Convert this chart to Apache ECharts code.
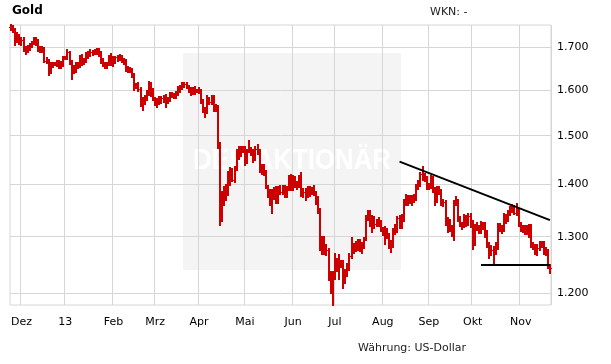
<!DOCTYPE html>
<html>
<head>
<meta charset="utf-8">
<script src="https://cdn.jsdelivr.net/npm/echarts@6/dist/echarts.min.js"></script>
<style>html,body{margin:0;padding:0;background:#fff}#c{width:611px;height:364px}</style>
</head>
<body>
<div id="c"></div>
<script>
// rows: [date, open, close, low, high]  (USD per ounce)
const nov12 = [
 ['2012-11-26',1751,1749,1742,1754],['2012-11-27',1749,1742,1737,1753],['2012-11-28',1742,1717,1705,1745],
 ['2012-11-29',1717,1727,1714,1734],['2012-11-30',1727,1712,1709,1730]
];
const dec12 = [
 ['2012-12-03',1712,1719,1705,1724],['2012-12-04',1719,1696,1692,1722],['2012-12-05',1696,1695,1684,1700],
 ['2012-12-06',1695,1700,1690,1703],['2012-12-07',1700,1704,1694,1708],['2012-12-10',1704,1711,1701,1714],
 ['2012-12-11',1711,1716,1708,1723],['2012-12-12',1716,1716,1706,1723],['2012-12-13',1716,1695,1692,1718],
 ['2012-12-14',1695,1697,1690,1700],['2012-12-17',1697,1696,1689,1701],['2012-12-18',1696,1668,1665,1699],
 ['2012-12-19',1668,1668,1662,1675],['2012-12-20',1668,1647,1636,1670],['2012-12-21',1647,1657,1640,1664],
 ['2012-12-24',1657,1660,1653,1664],['2012-12-25',1660,1660,1658,1662],['2012-12-26',1660,1662,1655,1667],
 ['2012-12-27',1662,1660,1652,1668],['2012-12-28',1660,1656,1651,1665],['2012-12-31',1656,1675,1655,1677]
];
const jan13 = [
 ['2013-01-01',1675,1676,1672,1678],['2013-01-02',1676,1688,1673,1694],['2013-01-03',1688,1665,1661,1690],
 ['2013-01-04',1665,1648,1626,1667],['2013-01-07',1648,1645,1640,1656],['2013-01-08',1645,1660,1642,1664],
 ['2013-01-09',1660,1656,1652,1664],['2013-01-10',1656,1677,1653,1679],['2013-01-11',1677,1662,1659,1681],
 ['2013-01-14',1662,1670,1660,1673],['2013-01-15',1670,1683,1666,1686],['2013-01-16',1683,1683,1675,1688],
 ['2013-01-17',1683,1688,1679,1693],['2013-01-18',1688,1687,1682,1692],['2013-01-21',1687,1692,1684,1695],
 ['2013-01-22',1692,1692,1685,1696],['2013-01-23',1692,1685,1679,1697],['2013-01-24',1685,1669,1663,1690],
 ['2013-01-25',1669,1658,1655,1672],['2013-01-28',1658,1654,1651,1662],['2013-01-29',1654,1661,1651,1664],
 ['2013-01-30',1661,1679,1658,1680],['2013-01-31',1679,1663,1659,1684]
];
const feb13 = [
 ['2013-02-01',1663,1667,1655,1678],['2013-02-04',1667,1676,1664,1678],['2013-02-05',1676,1673,1668,1680],
 ['2013-02-06',1673,1677,1670,1682],['2013-02-07',1677,1670,1665,1680],['2013-02-08',1670,1667,1660,1672],
 ['2013-02-11',1667,1649,1645,1669],['2013-02-12',1649,1650,1642,1654],['2013-02-13',1650,1645,1641,1652],
 ['2013-02-14',1645,1636,1630,1648],['2013-02-15',1636,1609,1601,1638],['2013-02-18',1609,1610,1604,1614],
 ['2013-02-19',1610,1603,1598,1616],['2013-02-20',1603,1578,1565,1606],['2013-02-21',1578,1577,1555,1583],
 ['2013-02-22',1577,1582,1570,1586],['2013-02-25',1582,1593,1578,1599],['2013-02-26',1593,1614,1590,1619],
 ['2013-02-27',1614,1596,1588,1616],['2013-02-28',1596,1579,1577,1602]
];
const mar13 = [
 ['2013-03-01',1579,1576,1567,1583],['2013-03-04',1576,1573,1562,1580],['2013-03-05',1573,1575,1570,1584],
 ['2013-03-06',1575,1583,1572,1585],['2013-03-07',1583,1576,1573,1587],['2013-03-08',1576,1576,1562,1590],
 ['2013-03-11',1576,1578,1571,1582],['2013-03-12',1578,1590,1576,1593],['2013-03-13',1590,1588,1584,1593],
 ['2013-03-14',1588,1588,1582,1592],['2013-03-15',1588,1592,1583,1596],['2013-03-18',1592,1604,1590,1608],
 ['2013-03-19',1604,1606,1597,1610],['2013-03-20',1606,1612,1603,1616],['2013-03-21',1612,1614,1608,1617],
 ['2013-03-22',1614,1608,1604,1616],['2013-03-25',1608,1604,1596,1609],['2013-03-26',1604,1595,1590,1606],
 ['2013-03-27',1595,1603,1592,1606],['2013-03-28',1603,1598,1592,1607],['2013-03-29',1598,1598,1596,1600]
];
const apr13 = [
 ['2013-04-01',1598,1600,1593,1604],['2013-04-02',1600,1575,1572,1601],['2013-04-03',1575,1554,1552,1578],
 ['2013-04-04',1554,1552,1540,1561],['2013-04-05',1552,1581,1550,1588],['2013-04-08',1581,1573,1569,1583],
 ['2013-04-09',1573,1585,1570,1587],['2013-04-10',1585,1557,1553,1587],['2013-04-11',1557,1564,1553,1567],
 ['2013-04-12',1564,1476,1474,1564],['2013-04-15',1476,1348,1321,1484],['2013-04-16',1348,1368,1330,1386],
 ['2013-04-17',1368,1377,1360,1395],['2013-04-18',1377,1392,1370,1398],['2013-04-19',1392,1405,1380,1424],
 ['2013-04-22',1405,1424,1398,1432],['2013-04-23',1424,1409,1406,1430],['2013-04-24',1409,1432,1405,1436],
 ['2013-04-25',1432,1462,1428,1470],['2013-04-26',1462,1462,1452,1476],['2013-04-29',1462,1467,1458,1476],
 ['2013-04-30',1467,1472,1465,1477]
];
const may13 = [
 ['2013-05-01',1472,1446,1440,1476],['2013-05-02',1446,1467,1444,1471],['2013-05-03',1467,1471,1465,1488],
 ['2013-05-06',1471,1469,1460,1474],['2013-05-07',1469,1451,1445,1471],['2013-05-08',1451,1473,1449,1476],
 ['2013-05-09',1473,1469,1462,1480],['2013-05-10',1469,1436,1425,1471],['2013-05-13',1436,1434,1420,1439],
 ['2013-05-14',1434,1425,1418,1440],['2013-05-15',1425,1393,1392,1427],['2013-05-16',1393,1385,1375,1396],
 ['2013-05-17',1385,1366,1359,1389],['2013-05-20',1366,1381,1345,1388],['2013-05-21',1381,1378,1372,1392],
 ['2013-05-22',1378,1369,1363,1394],['2013-05-23',1369,1391,1363,1395],['2013-05-24',1391,1386,1381,1396],
 ['2013-05-27',1386,1393,1382,1397],['2013-05-28',1393,1378,1375,1397],['2013-05-29',1378,1391,1375,1394],
 ['2013-05-30',1391,1411,1388,1416],['2013-05-31',1411,1392,1389,1419]
];
const jun13 = [
 ['2013-06-03',1392,1411,1388,1416],['2013-06-04',1411,1398,1394,1414],['2013-06-05',1398,1399,1390,1404],
 ['2013-06-06',1399,1414,1395,1417],['2013-06-07',1414,1383,1378,1423],['2013-06-10',1383,1386,1375,1390],
 ['2013-06-11',1386,1378,1370,1391],['2013-06-12',1378,1390,1376,1394],['2013-06-13',1390,1386,1378,1394],
 ['2013-06-14',1386,1389,1382,1392],['2013-06-17',1389,1383,1380,1396],['2013-06-18',1383,1367,1362,1386],
 ['2013-06-19',1367,1350,1344,1375],['2013-06-20',1350,1277,1275,1352],['2013-06-21',1277,1297,1268,1300],
 ['2013-06-24',1297,1277,1268,1299],['2013-06-25',1277,1276,1267,1285],['2013-06-26',1276,1230,1222,1278],
 ['2013-06-27',1230,1212,1200,1237],['2013-06-28',1212,1234,1180,1236]
];
const jul13 = [
 ['2013-07-01',1234,1255,1225,1268],['2013-07-02',1255,1243,1239,1260],['2013-07-03',1243,1252,1224,1266],
 ['2013-07-04',1252,1251,1245,1256],['2013-07-05',1251,1223,1208,1256],['2013-07-08',1223,1236,1218,1240],
 ['2013-07-09',1236,1245,1230,1250],['2013-07-10',1245,1265,1240,1269],['2013-07-11',1265,1278,1262,1298],
 ['2013-07-12',1278,1277,1271,1287],['2013-07-15',1277,1283,1274,1290],['2013-07-16',1283,1291,1276,1294],
 ['2013-07-17',1291,1277,1274,1294],['2013-07-18',1277,1285,1270,1289],['2013-07-19',1285,1295,1279,1297],
 ['2013-07-22',1295,1336,1294,1338],['2013-07-23',1336,1345,1332,1348],['2013-07-24',1345,1322,1320,1349],
 ['2013-07-25',1322,1334,1309,1338],['2013-07-26',1334,1323,1316,1337],['2013-07-29',1323,1329,1320,1332],
 ['2013-07-30',1329,1325,1320,1335],['2013-07-31',1325,1313,1310,1330]
];
const aug13 = [
 ['2013-08-01',1313,1311,1303,1316],['2013-08-02',1311,1310,1286,1318],['2013-08-05',1310,1302,1298,1314],
 ['2013-08-06',1302,1283,1280,1305],['2013-08-07',1283,1286,1272,1292],['2013-08-08',1286,1311,1282,1314],
 ['2013-08-09',1311,1312,1305,1322],['2013-08-12',1312,1334,1308,1336],['2013-08-13',1334,1322,1317,1339],
 ['2013-08-14',1322,1336,1317,1341],['2013-08-15',1336,1365,1330,1369],['2013-08-16',1365,1376,1360,1380],
 ['2013-08-19',1376,1366,1360,1378],['2013-08-20',1366,1371,1364,1378],['2013-08-21',1371,1370,1360,1377],
 ['2013-08-22',1370,1376,1365,1380],['2013-08-23',1376,1395,1369,1399],['2013-08-26',1395,1403,1390,1407],
 ['2013-08-27',1403,1420,1396,1423],['2013-08-28',1420,1418,1408,1434],['2013-08-29',1418,1411,1406,1420],
 ['2013-08-30',1411,1395,1390,1414]
];
const sep13 = [
 ['2013-09-02',1395,1395,1390,1400],['2013-09-03',1395,1412,1393,1416],['2013-09-04',1412,1389,1385,1414],
 ['2013-09-05',1389,1366,1360,1392],['2013-09-06',1366,1392,1365,1394],['2013-09-09',1392,1386,1381,1395],
 ['2013-09-10',1386,1363,1360,1388],['2013-09-11',1363,1365,1357,1369],['2013-09-12',1365,1330,1322,1367],
 ['2013-09-13',1330,1327,1308,1334],['2013-09-16',1327,1318,1311,1331],['2013-09-17',1318,1310,1302,1320],
 ['2013-09-18',1310,1363,1294,1368],['2013-09-19',1363,1367,1360,1376],['2013-09-20',1367,1333,1329,1370],
 ['2013-09-23',1333,1324,1320,1337],['2013-09-24',1324,1322,1314,1326],['2013-09-25',1322,1336,1318,1340],
 ['2013-09-26',1336,1324,1320,1338],['2013-09-27',1324,1339,1322,1342],['2013-09-30',1339,1327,1318,1342]
];
const oct13 = [
 ['2013-10-01',1327,1286,1278,1330],['2013-10-02',1286,1318,1284,1321],['2013-10-03',1318,1317,1313,1326],
 ['2013-10-04',1317,1309,1306,1320],['2013-10-07',1309,1324,1306,1327],['2013-10-08',1324,1323,1315,1326],
 ['2013-10-09',1323,1306,1300,1325],['2013-10-10',1306,1286,1282,1310],['2013-10-11',1286,1272,1262,1289],
 ['2013-10-14',1272,1276,1267,1283],['2013-10-15',1276,1273,1251,1282],['2013-10-16',1273,1282,1269,1288],
 ['2013-10-17',1282,1321,1278,1323],['2013-10-18',1321,1316,1311,1324],['2013-10-21',1316,1315,1306,1319],
 ['2013-10-22',1315,1337,1310,1342],['2013-10-23',1337,1333,1326,1340],['2013-10-24',1333,1346,1330,1349],
 ['2013-10-25',1346,1352,1341,1355],['2013-10-28',1352,1353,1346,1360],['2013-10-29',1353,1345,1342,1357],
 ['2013-10-30',1345,1349,1340,1361],['2013-10-31',1349,1323,1320,1352]
];
const nov13 = [
 ['2013-11-01',1323,1316,1311,1326],['2013-11-04',1316,1315,1309,1320],['2013-11-05',1315,1309,1305,1319],
 ['2013-11-06',1309,1318,1305,1320],['2013-11-07',1318,1309,1300,1322],['2013-11-08',1309,1286,1281,1321],
 ['2013-11-11',1286,1281,1277,1289],['2013-11-12',1281,1272,1268,1284],['2013-11-13',1272,1280,1266,1284],
 ['2013-11-14',1280,1286,1276,1290],['2013-11-15',1286,1287,1281,1291],['2013-11-18',1287,1273,1268,1290],
 ['2013-11-19',1273,1274,1266,1279],['2013-11-20',1274,1245,1243,1276],['2013-11-21',1245,1243,1235,1249]
];

// tick labels (by month number 1..12) and price grid levels
const monthLabels = ['13','Feb','Mrz','Apr','Mai','Jun','Jul','Aug','Sep','Okt','Nov','Dez'];
const priceLevels = [1200, 1300, 1400, 1500, 1600, 1700];

// drawn trend lines: [date, price]
const resistanceLine = [['2013-08-13', 1446], ['2013-11-21', 1331]];
const supportLine = [['2013-10-07', 1250], ['2013-11-21', 1250]];

const rows = [].concat(nov12, dec12, jan13, feb13, mar13, apr13, may13, jun13, jul13, aug13, sep13, oct13, nov13);
const dates = rows.map(r => r[0]);
const ohlc = rows.map((r, i) => [i, r[1], r[2], r[3], r[4]]);
const monthStarts = new Set();
for (let i = 1; i < dates.length; i++) {
  if (dates[i].slice(5, 7) !== dates[i - 1].slice(5, 7)) monthStarts.add(dates[i]);
}
const isMonthStart = (idx, val) => monthStarts.has(val);

const RED = '#cc0000';
function renderBar(params, api) {
  const i = api.value(0);
  const pO = api.coord([i, api.value(1)]);
  const pC = api.coord([i, api.value(2)]);
  const pL = api.coord([i, api.value(3)]);
  const pH = api.coord([i, api.value(4)]);
  const x = Math.round(pO[0]);
  const yO = Math.round(pO[1]) + 0.5, yC = Math.round(pC[1]) + 0.5;
  return {
    type: 'group',
    children: [
      {type: 'line', shape: {x1: x, y1: Math.round(pH[1]) - 1, x2: x, y2: Math.round(pL[1]) + 1}, style: {stroke: RED, lineWidth: 2}},
      {type: 'line', shape: {x1: x - 2, y1: yO, x2: x, y2: yO}, style: {stroke: RED, lineWidth: 1}},
      {type: 'line', shape: {x1: x, y1: yC, x2: x + 2, y2: yC}, style: {stroke: RED, lineWidth: 1}}
    ]
  };
}

const FONT = 'DejaVu Sans';
const chart = echarts.init(document.getElementById('c'), null, {renderer: 'canvas'});
chart.setOption({
  animation: false,
  backgroundColor: '#ffffff',
  textStyle: {fontFamily: FONT},
  grid: {left: 10, right: 60, top: 25, bottom: 59, show: true, borderColor: '#d6d6d6', borderWidth: 1, backgroundColor: 'transparent'},
  graphic: [
    {type: 'rect', z: -5, silent: true, shape: {x: 183, y: 53, width: 218, height: 217}, style: {fill: '#f4f4f4'}},
    {type: 'text', z: -4, silent: true, x: 292, y: 161, scaleX: 0.86,
      style: {text: 'DER AKTIONÄR', fill: '#ffffff', font: 'bold 30px "Liberation Sans", sans-serif', align: 'center', verticalAlign: 'middle'}},
    {type: 'text', left: 12, top: 5, style: {text: 'Gold', fill: '#000', font: 'bold 12px "DejaVu Sans"'}},
    {type: 'text', left: 430, top: 7, style: {text: 'WKN: -', fill: '#222', font: '11px "DejaVu Sans"'}},
    {type: 'text', left: 358, top: 343, style: {text: 'Währung: US-Dollar', fill: '#222', font: '11px "DejaVu Sans"'}}
  ],
  xAxis: {
    type: 'category', data: dates, boundaryGap: true, z: 1,
    axisLine: {show: false}, axisTick: {show: false},
    axisLabel: {interval: isMonthStart, margin: 12, color: '#000', fontSize: 11, fontFamily: FONT,
      formatter: v => monthLabels[+v.slice(5, 7) - 1]},
    splitLine: {show: true, interval: isMonthStart, lineStyle: {color: '#d6d6d6', width: 1}}
  },
  yAxis: {
    type: 'log', logBase: 10, min: 1180, max: 1755, position: 'right',
    axisLine: {show: false}, axisTick: {show: false}, axisLabel: {show: false}, splitLine: {show: false}
  },
  series: [
    {
      type: 'line', data: [], silent: true, z: 1,
      markLine: {
        z: 1, silent: true, symbol: 'none', animation: false,
        lineStyle: {color: '#d6d6d6', width: 1, type: 'solid'},
        label: {show: true, position: 'end', distance: 6, color: '#000', fontSize: 11, fontFamily: FONT,
          formatter: p => String(p.value).replace(/(\d)(\d{3})$/, '$1.$2')},
        emphasis: {disabled: true},
        data: priceLevels.map(v => ({yAxis: v}))
      }
    },
    {
      type: 'custom', data: ohlc, z: 3, silent: true,
      encode: {x: 0, y: [1, 2, 3, 4]},
      renderItem: renderBar
    },
    {
      type: 'line', data: [], silent: true, z: 6,
      markLine: {
        z: 6, silent: true, symbol: 'none', animation: false,
        lineStyle: {color: '#000', width: 2, type: 'solid'},
        label: {show: false},
        emphasis: {disabled: true},
        data: [
          [{coord: resistanceLine[0]}, {coord: resistanceLine[1]}],
          [{coord: supportLine[0]}, {coord: supportLine[1]}]
        ]
      }
    }
  ]
});
</script>
</body>
</html>
